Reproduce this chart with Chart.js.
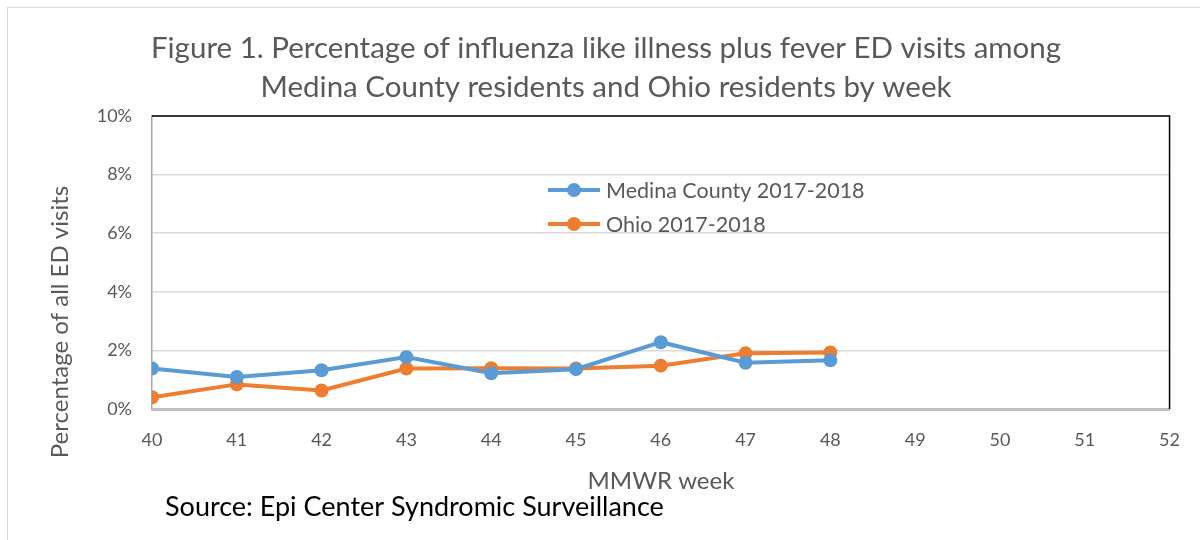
<!DOCTYPE html>
<html>
<head>
<meta charset="utf-8">
<script src="https://cdn.jsdelivr.net/npm/chart.js@4.4.0/dist/chart.umd.min.js"></script>
<style>
  html, body { margin: 0; padding: 0; background: #fff; }
  #wrap { position: relative; width: 1200px; height: 540px; }
  #frame { position: absolute; left: 7px; top: 7px; width: 1200px; height: 540px; border-left: 1px solid #d9d9d9; border-top: 1px solid #d9d9d9; pointer-events: none; }
</style>
</head>
<body>
<div id="wrap">
  <canvas id="chart" width="1200" height="540"></canvas>
  <div id="frame"></div>
</div>
<script>
// Chart data
const weeks = [40, 41, 42, 43, 44, 45, 46, 47, 48];
const medinaValues = [1.38, 1.09, 1.32, 1.77, 1.22, 1.36, 2.28, 1.58, 1.66];
const ohioValues = [0.40, 0.84, 0.63, 1.38, 1.39, 1.38, 1.48, 1.90, 1.93];
const seriesNames = ['Medina County 2017-2018', 'Ohio 2017-2018'];
const seriesColors = ['#5b9bd5', '#ed7d31'];

const titleLines = [
  'Figure 1. Percentage of influenza like illness plus fever ED visits among',
  'Medina County residents and Ohio residents by week'
];
const yTitle = 'Percentage of all ED visits';
const xTitle = 'MMWR week';
const sourceText = 'Source: Epi Center Syndromic Surveillance';

const FONT = 'Lato, "Open Sans", sans-serif';
const TEXT_COLOR = '#595959';

// Draws title, axis titles, legend, source and plot border
const decorPlugin = {
  id: 'decor',
  afterDraw(chart) {
    const ctx = chart.ctx;
    const area = chart.chartArea;
    ctx.save();

    // black top/right plot border
    ctx.strokeStyle = '#000';
    ctx.lineWidth = 1.5;
    ctx.beginPath();
    ctx.moveTo(area.left, area.top);
    ctx.lineTo(area.right, area.top);
    ctx.lineTo(area.right, area.bottom);
    ctx.stroke();

    // title
    ctx.fillStyle = TEXT_COLOR;
    ctx.font = '29.5px ' + FONT;
    ctx.textAlign = 'center';
    ctx.textBaseline = 'middle';
    ctx.fillText(titleLines[0], 606, 48);
    ctx.fillText(titleLines[1], 606, 87);

    // y axis title
    ctx.font = '24px ' + FONT;
    ctx.save();
    ctx.translate(60, 322);
    ctx.rotate(-Math.PI / 2);
    ctx.fillText(yTitle, 0, 0);
    ctx.restore();

    // x axis title
    ctx.font = '24px ' + FONT;
    ctx.fillText(xTitle, 661, 481);

    // source
    ctx.fillStyle = '#000';
    ctx.font = '27px ' + FONT;
    ctx.textAlign = 'left';
    ctx.fillText(sourceText, 165, 507);

    // legend inside plot
    ctx.font = '21.5px ' + FONT;
    const legendY = [190, 224];
    chart.data.datasets.forEach((ds, i) => {
      const y = legendY[i];
      ctx.strokeStyle = ds.borderColor;
      ctx.lineWidth = 4;
      ctx.beginPath();
      ctx.moveTo(548, y);
      ctx.lineTo(600, y);
      ctx.stroke();
      ctx.fillStyle = ds.backgroundColor;
      ctx.beginPath();
      ctx.arc(574, y, 7, 0, Math.PI * 2);
      ctx.fill();
      ctx.fillStyle = TEXT_COLOR;
      ctx.fillText(ds.label, 606, y + 1);
    });

    ctx.restore();
  }
};

function makeDataset(label, values, color) {
  return {
    label: label,
    data: weeks.map((w, i) => ({ x: w, y: values[i] })),
    borderColor: color,
    backgroundColor: color,
    borderWidth: 4,
    pointRadius: 7,
    pointHoverRadius: 7,
    pointBorderWidth: 0,
    tension: 0
  };
}

new Chart(document.getElementById('chart'), {
  type: 'line',
  data: {
    datasets: [
      makeDataset(seriesNames[0], medinaValues, seriesColors[0]),
      makeDataset(seriesNames[1], ohioValues, seriesColors[1])
    ]
  },
  options: {
    responsive: false,
    animation: false,
    layout: { padding: { left: 92, right: 29, top: 116, bottom: 81 } },
    plugins: {
      legend: { display: false },
      tooltip: { enabled: false }
    },
    scales: {
      x: {
        type: 'linear',
        min: 40,
        max: 52,
        afterFit: (s) => { s.height = 50; },
        ticks: {
          stepSize: 1,
          color: TEXT_COLOR,
          font: { family: FONT, size: 18 },
          padding: 20
        },
        grid: { display: false, drawTicks: false },
        border: { color: '#bfbfbf', width: 3 }
      },
      y: {
        min: 0,
        max: 10,
        afterFit: (s) => { s.width = 60; },
        ticks: {
          stepSize: 2,
          color: TEXT_COLOR,
          font: { family: FONT, size: 18 },
          padding: 20,
          callback: (v) => v + '%'
        },
        grid: { color: '#d9d9d9', lineWidth: 1.5, drawTicks: false },
        border: { color: '#a6a6a6', width: 1.5 }
      }
    }
  },
  plugins: [decorPlugin]
});
</script>
</body>
</html>
